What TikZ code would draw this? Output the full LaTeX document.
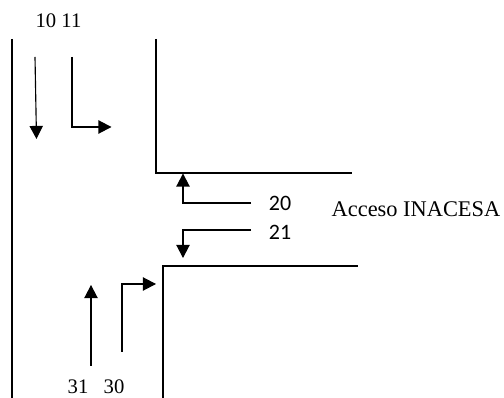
\documentclass[tikz,border=0pt]{standalone}
\usepackage{fontspec}
\setmainfont{Liberation Serif}
\newfontfamily\calfont{Carlito}
\usetikzlibrary{arrows.meta}
\tikzset{
  road/.style={draw=black,line width=1.05pt},
  flow/.style={draw=black,line width=0.85pt,-{Triangle[length=9.8pt,width=10pt]}},
  serifnum/.style={inner sep=0pt,font=\fontsize{15.5pt}{18pt}\selectfont},
  calnum/.style={inner sep=0pt,font=\calfont\fontsize{16.5pt}{18pt}\selectfont},
  place/.style={inner sep=0pt,font=\fontsize{16.8pt}{18pt}\selectfont}
}
\begin{document}
\begin{tikzpicture}[x=0.75pt,y=-0.75pt]
\useasboundingbox (0,0) rectangle (504,398);
% road edges
\draw[road] (12,39) -- (12,398);
\draw[road] (156,39) -- (156,173) -- (352,173);
\draw[road] (163,398) -- (163,266) -- (358,266);
% labels
\node[serifnum] (n1011) at (58.5,20.5) {10 11};
\node[calnum] (n20) at (280,203) {20};
\node[calnum] (n21) at (280,232) {21};
\node[place] (acc) at (416,209) {Acceso INACESA};
\node[serifnum] (n31) at (78,387) {31};
\node[serifnum] (n30) at (114,387) {30};
% free ends
\coordinate (a10s) at (35,57); \coordinate (a10e) at (36.5,139);
\coordinate (a11s) at (72,57); \coordinate (a11m) at (72,127); \coordinate (a11e) at (111.5,127);
\coordinate (a20s) at (251,203); \coordinate (a20m) at (183,203); \coordinate (a20e) at (183,173.5);
\coordinate (a21s) at (251,230); \coordinate (a21m) at (183,230); \coordinate (a21e) at (183,258);
\coordinate (a31s) at (91,366); \coordinate (a31e) at (91,285);
\coordinate (a30s) at (122,352); \coordinate (a30m) at (122,284); \coordinate (a30e) at (156,284);
% flows
\draw[flow] (a10s) -- (a10e);
\draw[flow] (a11s) -- (a11m) -- (a11e);
\draw[flow] (a20s) -- (a20m) -- (a20e);
\draw[flow] (a21s) -- (a21m) -- (a21e);
\draw[flow] (a31s) -- (a31e);
\draw[flow] (a30s) -- (a30m) -- (a30e);
\end{tikzpicture}
\end{document}
